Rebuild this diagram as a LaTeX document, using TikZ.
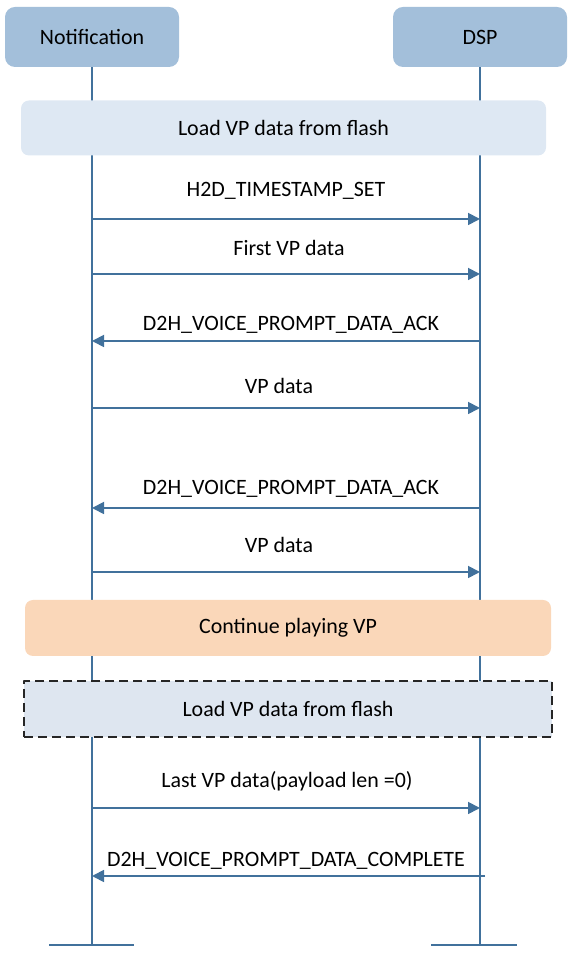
\documentclass[tikz,border=0pt]{standalone}
\usepackage{fontspec}
\setmainfont{Carlito}
\usetikzlibrary{arrows.meta}
\usetikzlibrary{positioning}
\definecolor{linecol}{RGB}{65,113,156}
\definecolor{actorfill}{RGB}{163,191,218}
\definecolor{loadfill}{RGB}{222,232,243}
\definecolor{playfill}{RGB}{250,215,185}
\definecolor{waitfill}{RGB}{222,230,240}
\begin{document}
\begin{tikzpicture}[>={Triangle[length=12bp,width=12bp]},line join=bevel,
  every node/.style={font=\fontsize{22}{26}\selectfont},
  actor/.style={fill=actorfill,rounded corners=10bp,minimum width=174bp,minimum height=60bp},
  phase/.style={rounded corners=8bp,minimum width=525bp,minimum height=55bp},
  msg/.style={linecol,line width=1.8bp,->},
  life/.style={linecol,line width=1.8bp}]
\useasboundingbox (0,0) rectangle (582bp,965bp);
%%
\node (N) at (92bp,928bp) [actor] {Notification};
\node (D) at (480bp,928bp) [actor] {DSP};
\coordinate (Nend) at (92bp,20bp);
\coordinate (Dend) at (480bp,20bp);
\draw [life] (N) -- (Nend);
\draw [life] (D) -- (Dend);
\draw [life] (49bp,20bp) -- (134bp,20bp);
\draw [life] (431bp,20bp) -- (517bp,20bp);
%%
\node (L1) at (283.5bp,837bp) [phase,fill=loadfill] {Load VP data from flash};
%%
\coordinate (m1a) at (92bp,746bp);  \coordinate (m1b) at (480bp,746bp);
\draw [msg] (m1a) -- (m1b);
\node (t1) at (286bp,774bp) {H2D\_TIMESTAMP\_SET};
\coordinate (m2a) at (92bp,691bp);  \coordinate (m2b) at (480bp,691bp);
\draw [msg] (m2a) -- (m2b);
\node (t2) at (289bp,717bp) {First VP data};
\coordinate (m3a) at (480bp,624bp);  \coordinate (m3b) at (92bp,624bp);
\draw [msg] (m3a) -- (m3b);
\node (t3) at (291bp,640bp) {D2H\_VOICE\_PROMPT\_DATA\_ACK};
\coordinate (m4a) at (92bp,557bp);  \coordinate (m4b) at (480bp,557bp);
\draw [msg] (m4a) -- (m4b);
\node (t4) at (279bp,579bp) {VP data};
\coordinate (m5a) at (480bp,457bp);  \coordinate (m5b) at (92bp,457bp);
\draw [msg] (m5a) -- (m5b);
\node (t5) at (291bp,476bp) {D2H\_VOICE\_PROMPT\_DATA\_ACK};
\coordinate (m6a) at (92bp,393bp);  \coordinate (m6b) at (480bp,393bp);
\draw [msg] (m6a) -- (m6b);
\node (t6) at (279bp,420bp) {VP data};
%%
\node (P) at (288bp,337bp) [phase,minimum width=526bp,minimum height=56bp,fill=playfill] {Continue playing VP};
\node (L2) at (288bp,256bp) [phase,rounded corners=0pt,minimum width=528bp,minimum height=56bp,fill=waitfill,draw=black!85,line width=2.4bp,dash pattern=on 9bp off 5bp] {Load VP data from flash};
%%
\coordinate (m7a) at (92bp,157bp);  \coordinate (m7b) at (480bp,157bp);
\draw [msg] (m7a) -- (m7b);
\node (t7) at (287bp,184bp) {Last VP data(payload len =0)};
\coordinate (m8a) at (485bp,89bp);  \coordinate (m8b) at (92bp,89bp);
\draw [msg] (m8a) -- (m8b);
\node (t8) at (286bp,104bp) {D2H\_VOICE\_PROMPT\_DATA\_COMPLETE};
%
\end{tikzpicture}
\end{document}
